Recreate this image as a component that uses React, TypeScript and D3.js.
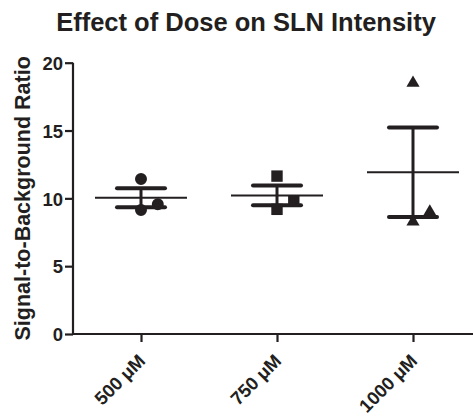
// Scatter plot with mean ± SEM per dose group
import React, { useEffect, useRef } from 'react';
import * as d3 from 'd3';

const doses = ['500 μM', '750 μM', '1000 μM'];
const dose500 = [11.42, 9.14, 9.56];
const dose750 = [11.64, 9.19, 9.82];
const dose1000 = [18.5, 8.27, 9.01];
// horizontal jitter (in marker widths) that keeps overlapping points apart
const jitter = [0, 0, 1.4];
const yTicks = [0, 5, 10, 15, 20];

const ink = '#231f20';
const font = 'Liberation Sans, Arial, sans-serif';

const App = () => {
  const svgRef = useRef<SVGSVGElement>(null);

  useEffect(() => {
    const width = 473;
    const svg = d3.select(svgRef.current);
    svg.selectAll('*').remove();

    const groups = [dose500, dose750, dose1000];
    const left = 73;
    const top = 62.7;
    const bottom = 334;

    const x = d3.scalePoint<string>().domain(doses).range([left, left + 408]).padding(0.5);
    const y = d3.scaleLinear().domain([0, 20]).range([bottom, top]);

    // title
    svg.append('text')
      .attr('x', 246)
      .attr('y', 31)
      .attr('text-anchor', 'middle')
      .attr('font-family', font)
      .attr('font-weight', 'bold')
      .attr('font-size', 25.5)
      .attr('fill', ink)
      .text('Effect of Dose on SLN Intensity');

    // y label
    svg.append('text')
      .attr('transform', `translate(30, ${(top + bottom) / 2}) rotate(-90)`)
      .attr('text-anchor', 'middle')
      .attr('font-family', font)
      .attr('font-weight', 'bold')
      .attr('font-size', 21.5)
      .attr('fill', ink)
      .text('Signal-to-Background Ratio');

    // axes
    const yAxis = svg.append('g')
      .attr('transform', `translate(${left},0)`)
      .call(d3.axisLeft(y).tickValues(yTicks).tickSize(8).tickPadding(2).tickSizeOuter(0));
    const xAxis = svg.append('g')
      .attr('transform', `translate(0,${bottom})`)
      .call(d3.axisBottom(x).tickSize(8).tickSizeOuter(0));

    [yAxis, xAxis].forEach(g => {
      g.select('.domain').attr('stroke', ink).attr('stroke-width', 2.2);
      g.selectAll('.tick line').attr('stroke', ink).attr('stroke-width', 2.2);
      g.selectAll('.tick text')
        .attr('fill', ink)
        .attr('font-family', font)
        .attr('font-weight', 'bold')
        .attr('font-size', 18.5);
    });
    yAxis.selectAll('.tick text').attr('dy', '0.36em');
    yAxis.select('.domain').attr('d', `M0,${bottom + 1}V${top}`);
    xAxis.select('.domain').attr('d', `M${left - 1},0H${width + 10}`);
    xAxis.selectAll('.tick text')
      .attr('text-anchor', 'end')
      .attr('dy', null)
      .attr('y', 0)
      .attr('transform', 'translate(5,28) rotate(-45)');

    const markerW = 12;
    groups.forEach((vals, gi) => {
      const cx = x(doses[gi]) as number;
      const mean = d3.mean(vals) as number;
      const sem = (d3.deviation(vals) as number) / Math.sqrt(vals.length);
      const g = svg.append('g');

      // error bar
      g.append('line')
        .attr('x1', cx).attr('x2', cx)
        .attr('y1', y(mean + sem)).attr('y2', y(mean - sem))
        .attr('stroke', ink).attr('stroke-width', 3);
      [mean + sem, mean - sem].forEach(v => {
        g.append('line')
          .attr('x1', cx - 24).attr('x2', cx + 24)
          .attr('y1', y(v)).attr('y2', y(v))
          .attr('stroke', ink).attr('stroke-width', 4).attr('stroke-linecap', 'round');
      });
      // mean
      g.append('line')
        .attr('x1', cx - 46).attr('x2', cx + 46)
        .attr('y1', y(mean)).attr('y2', y(mean))
        .attr('stroke', ink).attr('stroke-width', 2);

      const symbol = [d3.symbolCircle, d3.symbolSquare, d3.symbolTriangle][gi];
      const size = [113, 130, 75][gi];
      vals.forEach((v, i) => {
        g.append('path')
          .attr('d', d3.symbol(symbol, size)() as string)
          .attr('transform', `translate(${cx + jitter[i] * markerW},${y(v)})`)
          .attr('fill', ink);
      });
    });
  }, []);

  return (
    <svg ref={svgRef} width={473} height={416} style={{ display: 'block', position: 'absolute', left: 0, top: 0, background: '#fff' }} />
  );
};

export default App;
